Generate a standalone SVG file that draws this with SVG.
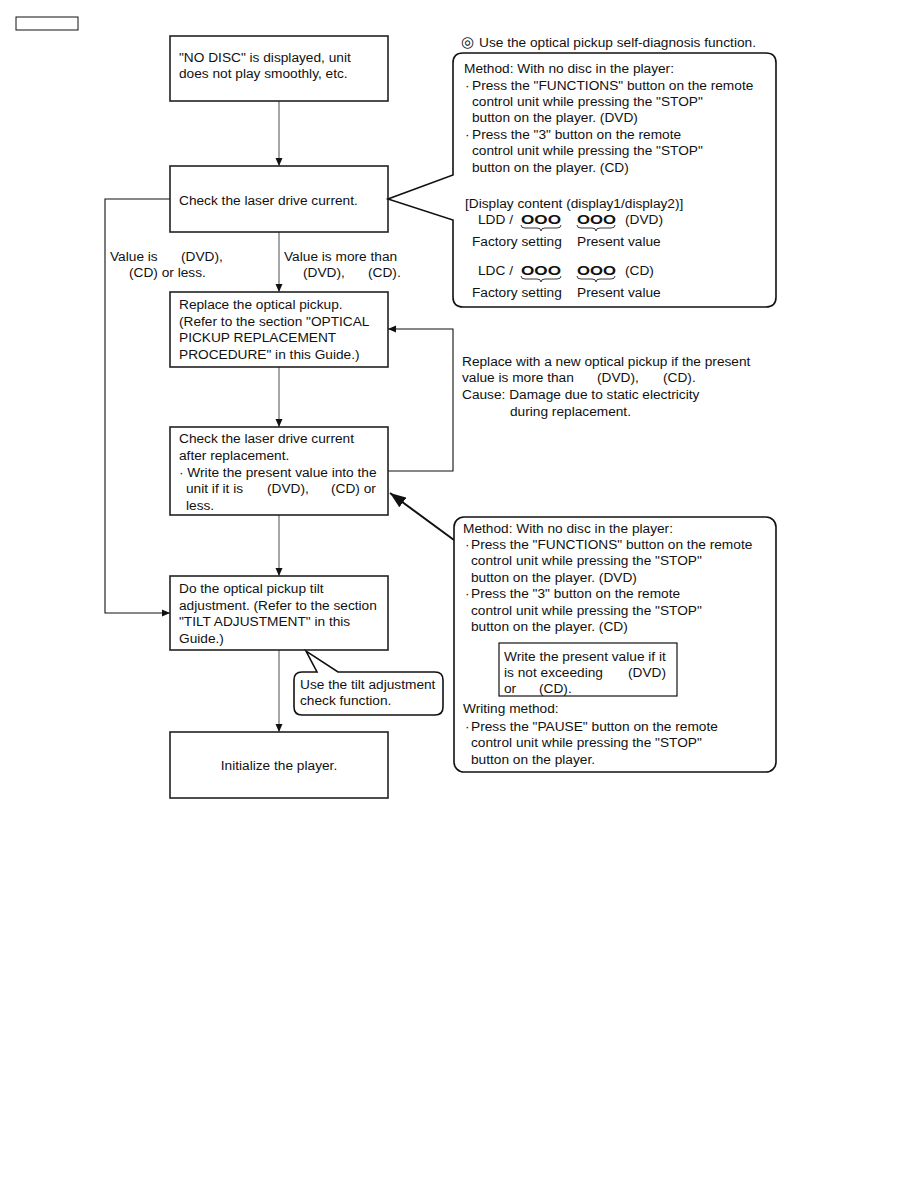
<svg xmlns="http://www.w3.org/2000/svg" width="918" height="1188" viewBox="0 0 918 1188">
<defs>
<style>
text{font-family:"Liberation Sans",Arial,sans-serif;font-size:13.7px;fill:#111}
.box{fill:#fff;stroke:#222;stroke-width:1.6}
.rb{fill:#fff;stroke:#111;stroke-width:1.6}
.flow{stroke:#888;stroke-width:1.5;fill:none}
.fb{stroke:#111;stroke-width:1.1;fill:none}
.oo{font-size:13.5px;font-weight:bold}
.br{fill:none;stroke:#222;stroke-width:0.9}
</style>
<marker id="ah" markerUnits="userSpaceOnUse" markerWidth="8" markerHeight="8" refX="8" refY="4" orient="auto"><path d="M0,0.5 L8,4 L0,7.5 z" fill="#111"/></marker>
<marker id="big" markerUnits="userSpaceOnUse" markerWidth="16" markerHeight="12" refX="16" refY="6" orient="auto"><path d="M0,0 L16,6 L0,12 z" fill="#111"/></marker>
</defs>
<rect x="16" y="17" width="62" height="13" fill="#fff" stroke="#111" stroke-width="1"/>

<g id="connectors">
<line class="flow" x1="279" y1="101" x2="279" y2="166" marker-end="url(#ah)"/>
<line class="flow" x1="279" y1="232" x2="279" y2="292" marker-end="url(#ah)"/>
<line class="flow" x1="279" y1="367" x2="279" y2="427" marker-end="url(#ah)"/>
<line class="flow" x1="279" y1="515" x2="279" y2="576" marker-end="url(#ah)"/>
<line class="flow" x1="279" y1="650" x2="279" y2="732" marker-end="url(#ah)"/>
<polyline class="fb" points="170,199 105,199 105,613 170,613" marker-end="url(#ah)"/>
<polyline class="fb" points="388,471 453,471 453,329 388,329" marker-end="url(#ah)"/>
<line x1="454" y1="540" x2="390" y2="493" stroke="#111" stroke-width="2" marker-end="url(#big)"/>
<text x="110" y="261">Value is</text><text x="181" y="261">(DVD),</text>
<text x="129" y="277">(CD) or less.</text>
<text x="284" y="261">Value is more than</text>
<text x="303" y="277">(DVD),</text><text x="368" y="277">(CD).</text>
</g>

<g id="n1">
<rect class="box" x="170" y="36" width="218" height="65"/>
<text x="179" y="62">"NO DISC" is displayed, unit</text>
<text x="179" y="78">does not play smoothly, etc.</text>
</g>

<g id="n2">
<rect class="box" x="170" y="166" width="218" height="66"/>
<text x="179" y="205">Check the laser drive current.</text>
</g>

<g id="n3">
<rect class="box" x="170" y="292" width="218" height="75"/>
<text x="179" y="309">Replace the optical pickup.</text>
<text x="179" y="326">(Refer to the section "OPTICAL</text>
<text x="179" y="342">PICKUP REPLACEMENT</text>
<text x="179" y="359">PROCEDURE" in this Guide.)</text>
</g>

<g id="n4">
<rect class="box" x="170" y="427" width="218" height="88"/>
<text x="179" y="443">Check the laser drive current</text>
<text x="179" y="460">after replacement.</text>
<text x="179" y="477">· Write the present value into the</text>
<text x="186" y="493">unit if it is</text><text x="267" y="493">(DVD),</text><text x="331" y="493">(CD) or</text>
<text x="186" y="510">less.</text>
</g>

<g id="n5">
<rect class="box" x="170" y="576" width="218" height="74"/>
<text x="179" y="593">Do the optical pickup tilt</text>
<text x="179" y="610">adjustment.  (Refer to the section</text>
<text x="179" y="626">"TILT ADJUSTMENT" in this</text>
<text x="179" y="643">Guide.)</text>
</g>

<g id="n6">
<rect class="box" x="170" y="732" width="218" height="66"/>
<text x="279" y="770" text-anchor="middle">Initialize the player.</text>
</g>

<g id="callout-tilt">
<path class="rb" d="M302,672 H317 L306,651 L338,672 H435 Q443,672 443,680 V707 Q443,715 435,715 H302 Q294,715 294,707 V680 Q294,672 302,672 Z"/>
<text x="300" y="689">Use the tilt adjustment</text>
<text x="300" y="705">check function.</text>
</g>

<g id="self-diag">
<text x="461" y="47"><tspan font-family="DejaVu Sans" font-size="15" font-weight="bold">◎</tspan><tspan x="479">Use the optical pickup self-diagnosis function.</tspan></text>
<path class="rb" d="M463,53 H766 Q776,53 776,63 V297 Q776,307 766,307 H463 Q453,307 453,297 V220 L388,199 L453,175 V63 Q453,53 463,53 Z"/>
<text x="464" y="73">Method: With no disc in the player:</text>
<text x="465" y="90">·</text><text x="472" y="90">Press the "FUNCTIONS" button on the remote</text>
<text x="472" y="106">control unit while pressing the "STOP"</text>
<text x="472" y="122">button on the player. (DVD)</text>
<text x="465" y="139">·</text><text x="472" y="139">Press the "3" button on the remote</text>
<text x="472" y="155">control unit while pressing the "STOP"</text>
<text x="472" y="172">button on the player. (CD)</text>
<text x="465" y="208">[Display content (display1/display2)]</text>
<text x="478" y="224">LDD  /</text><text class="oo" x="521" y="224" textLength="40" lengthAdjust="spacingAndGlyphs">OOO</text><text class="oo" x="577" y="224" textLength="39" lengthAdjust="spacingAndGlyphs">OOO</text><text x="625" y="224">(DVD)</text>
<path class="br" d="M521,225 q0,3 4,3 h12 q4,0 4,3 q0,-3 4,-3 h12 q4,0 4,-3"/>
<path class="br" d="M577,225 q0,3 4,3 h11 q4,0 4,3 q0,-3 4,-3 h11 q4,0 4,-3"/>
<text x="472" y="246">Factory setting</text><text x="577" y="246">Present value</text>
<text x="478" y="275">LDC  /</text><text class="oo" x="521" y="275" textLength="40" lengthAdjust="spacingAndGlyphs">OOO</text><text class="oo" x="577" y="275" textLength="39" lengthAdjust="spacingAndGlyphs">OOO</text><text x="625" y="275">(CD)</text>
<path class="br" d="M521,276 q0,3 4,3 h12 q4,0 4,3 q0,-3 4,-3 h12 q4,0 4,-3"/>
<path class="br" d="M577,276 q0,3 4,3 h11 q4,0 4,3 q0,-3 4,-3 h11 q4,0 4,-3"/>
<text x="472" y="297">Factory setting</text><text x="577" y="297">Present value</text>
</g>

<g id="replace-note">
<text x="462" y="366">Replace with a new optical pickup if the present</text>
<text x="462" y="382">value is more than</text><text x="597" y="382">(DVD),</text><text x="663" y="382">(CD).</text>
<text x="462" y="399">Cause: Damage due to static electricity</text>
<text x="510" y="416">during replacement.</text>
</g>

<g id="write-method">
<rect class="rb" x="454" y="517" width="322" height="255" rx="10"/>
<text x="463" y="533">Method: With no disc in the player:</text>
<text x="465" y="549">·</text><text x="471" y="549">Press the "FUNCTIONS" button on the remote</text>
<text x="471" y="565">control unit while pressing the "STOP"</text>
<text x="471" y="582">button on the player. (DVD)</text>
<text x="465" y="598">·</text><text x="471" y="598">Press the "3" button on the remote</text>
<text x="471" y="615">control unit while pressing the "STOP"</text>
<text x="471" y="631">button on the player. (CD)</text>
<rect x="499" y="643" width="178" height="53" fill="#fff" stroke="#111" stroke-width="1.2"/>
<text x="504" y="661">Write the present value if it</text>
<text x="504" y="677">is not exceeding</text><text x="628" y="677">(DVD)</text>
<text x="504" y="693">or</text><text x="539" y="693">(CD).</text>
<text x="463" y="713">Writing method:</text>
<text x="465" y="731">·</text><text x="471" y="731">Press the "PAUSE" button on the remote</text>
<text x="471" y="747">control unit while pressing the "STOP"</text>
<text x="471" y="764">button on the player.</text>
</g>
</svg>
